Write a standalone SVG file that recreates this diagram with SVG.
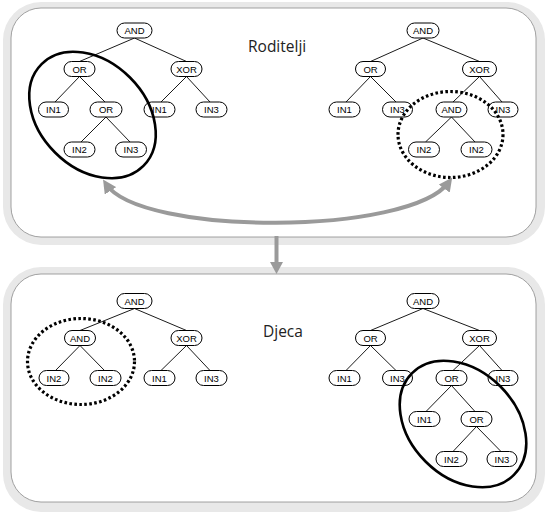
<svg xmlns="http://www.w3.org/2000/svg" width="546" height="516" viewBox="0 0 546 516">
<style>
.band{fill:#e8e8e8;stroke:none}
.panel{fill:#ffffff;stroke:#8a8a8a;stroke-width:0.8}
.n rect{fill:#ffffff;stroke:#000000;stroke-width:1}
.n text{font-family:"Liberation Sans",Arial,sans-serif;font-size:9.5px;fill:#000000;text-anchor:middle}
.e line{stroke:#000000;stroke-width:0.9}
.title{font-family:"Open Sans","Noto Sans",sans-serif;font-size:15.5px;fill:#222222}
.solid{fill:none;stroke:#000000;stroke-width:2.6}
.dotted{fill:none;stroke:#000000;stroke-width:3.2;stroke-dasharray:2.6 2.4}
.garrow{fill:none;stroke:#9a9a9a;stroke-width:4}
</style>
<defs>
<marker id="ah" viewBox="0 0 10 10" refX="6" refY="5" markerWidth="3.4" markerHeight="3.4" orient="auto-start-reverse" markerUnits="strokeWidth">
<path d="M0,0 L10,5 L0,10 Z" fill="#9a9a9a"/>
</marker>
</defs>
<g id="panel-top">
<rect class="band" x="3" y="2" width="542" height="243" rx="38"/>
<rect class="panel" x="11" y="8" width="525" height="229" rx="30"/>
</g>
<g id="panel-bottom">
<rect class="band" x="3" y="267" width="542" height="245" rx="38"/>
<rect class="panel" x="11" y="274" width="525" height="228" rx="30"/>
</g>
<text class="title" x="248" y="52">Roditelji</text>
<text class="title" x="263" y="337">Djeca</text>
<g id="connectors" class="e">
<!-- top-left tree -->
<line x1="134.5" y1="38" x2="79.5" y2="61.5"/>
<line x1="134.5" y1="38" x2="186.5" y2="61.5"/>
<line x1="79.5" y1="76.5" x2="55" y2="102"/>
<line x1="79.5" y1="76.5" x2="105" y2="102"/>
<line x1="186.5" y1="76.5" x2="161" y2="102"/>
<line x1="186.5" y1="76.5" x2="210" y2="102"/>
<line x1="106" y1="117" x2="81" y2="142"/>
<line x1="106" y1="117" x2="130" y2="142"/>
<!-- top-right tree -->
<line x1="423" y1="38" x2="370.5" y2="61.5"/>
<line x1="423" y1="38" x2="479.5" y2="61.5"/>
<line x1="370.5" y1="76.5" x2="346" y2="102"/>
<line x1="370.5" y1="76.5" x2="396" y2="102"/>
<line x1="479.5" y1="76.5" x2="453" y2="102"/>
<line x1="479.5" y1="76.5" x2="502" y2="102"/>
<line x1="451.5" y1="117" x2="425.5" y2="142"/>
<line x1="451.5" y1="117" x2="475" y2="142"/>
<!-- bottom-left tree -->
<line x1="134.5" y1="308.5" x2="80" y2="330.5"/>
<line x1="134.5" y1="308.5" x2="186.5" y2="330.5"/>
<line x1="80" y1="345.5" x2="55.5" y2="370.5"/>
<line x1="80" y1="345.5" x2="104.5" y2="370.5"/>
<line x1="186.5" y1="345.5" x2="161" y2="370.5"/>
<line x1="186.5" y1="345.5" x2="210" y2="370.5"/>
<!-- bottom-right tree -->
<line x1="423" y1="308.5" x2="370.5" y2="330.5"/>
<line x1="423" y1="308.5" x2="479.5" y2="330.5"/>
<line x1="370.5" y1="345.5" x2="346" y2="370.5"/>
<line x1="370.5" y1="345.5" x2="396" y2="370.5"/>
<line x1="479.5" y1="345.5" x2="453" y2="370.5"/>
<line x1="479.5" y1="345.5" x2="502" y2="370.5"/>
<line x1="451.5" y1="385.5" x2="426" y2="411.5"/>
<line x1="451.5" y1="385.5" x2="475" y2="411.5"/>
<line x1="476.5" y1="426.5" x2="453" y2="451.5"/>
<line x1="476.5" y1="426.5" x2="501" y2="451.5"/>
</g>
<!-- top-left tree nodes -->
<g id="t1-and" class="n"><rect x="117" y="23" width="35" height="15" rx="7.5"/><text x="134.5" y="34">AND</text></g>
<g id="t1-or" class="n"><rect x="64" y="61.5" width="31" height="15" rx="7.5"/><text x="79.5" y="72.5">OR</text></g>
<g id="t1-xor" class="n"><rect x="171" y="61.5" width="31" height="15" rx="7.5"/><text x="186.5" y="72.5">XOR</text></g>
<g id="t1-in1a" class="n"><rect x="38.5" y="102" width="30" height="15" rx="7.5"/><text x="53.5" y="113">IN1</text></g>
<g id="t1-or2" class="n"><rect x="90" y="102" width="32" height="15" rx="7.5"/><text x="106" y="113">OR</text></g>
<g id="t1-in1b" class="n"><rect x="144" y="102" width="31" height="15" rx="7.5"/><text x="159.5" y="113">IN1</text></g>
<g id="t1-in3a" class="n"><rect x="196" y="102" width="31" height="15" rx="7.5"/><text x="211.5" y="113">IN3</text></g>
<g id="t1-in2" class="n"><rect x="64" y="142" width="31" height="15" rx="7.5"/><text x="79.5" y="153">IN2</text></g>
<g id="t1-in3b" class="n"><rect x="115.5" y="142" width="31" height="15" rx="7.5"/><text x="131" y="153">IN3</text></g>
<!-- top-right tree nodes -->
<g id="t2-and" class="n"><rect x="407" y="23" width="32" height="15" rx="7.5"/><text x="423" y="34">AND</text></g>
<g id="t2-or" class="n"><rect x="355.5" y="61.5" width="30" height="15" rx="7.5"/><text x="370.5" y="72.5">OR</text></g>
<g id="t2-xor" class="n"><rect x="462.5" y="61.5" width="34" height="15" rx="7.5"/><text x="479.5" y="72.5">XOR</text></g>
<g id="t2-in1" class="n"><rect x="329" y="102" width="31" height="15" rx="7.5"/><text x="344.5" y="113">IN1</text></g>
<g id="t2-in3a" class="n"><rect x="382.5" y="102" width="30" height="15" rx="7.5"/><text x="397.5" y="113">IN3</text></g>
<g id="t2-and2" class="n"><rect x="436" y="102" width="31" height="15" rx="7.5"/><text x="451.5" y="113">AND</text></g>
<g id="t2-in3b" class="n"><rect x="488" y="102" width="30" height="15" rx="7.5"/><text x="503" y="113">IN3</text></g>
<g id="t2-in2a" class="n"><rect x="408.5" y="142" width="31" height="15" rx="7.5"/><text x="424" y="153">IN2</text></g>
<g id="t2-in2b" class="n"><rect x="461" y="142" width="31" height="15" rx="7.5"/><text x="476.5" y="153">IN2</text></g>
<!-- bottom-left tree nodes -->
<g id="b1-and" class="n"><rect x="117" y="293.5" width="35" height="15" rx="7.5"/><text x="134.5" y="304.5">AND</text></g>
<g id="b1-and2" class="n"><rect x="64.5" y="330.5" width="31" height="15" rx="7.5"/><text x="80" y="341.5">AND</text></g>
<g id="b1-xor" class="n"><rect x="171" y="330.5" width="31" height="15" rx="7.5"/><text x="186.5" y="341.5">XOR</text></g>
<g id="b1-in2a" class="n"><rect x="39" y="370.5" width="30" height="15" rx="7.5"/><text x="54" y="381.5">IN2</text></g>
<g id="b1-in2b" class="n"><rect x="90" y="370.5" width="31" height="15" rx="7.5"/><text x="105.5" y="381.5">IN2</text></g>
<g id="b1-in1" class="n"><rect x="144" y="370.5" width="31" height="15" rx="7.5"/><text x="159.5" y="381.5">IN1</text></g>
<g id="b1-in3" class="n"><rect x="196" y="370.5" width="31" height="15" rx="7.5"/><text x="211.5" y="381.5">IN3</text></g>
<!-- bottom-right tree nodes -->
<g id="b2-and" class="n"><rect x="407" y="293.5" width="32" height="15" rx="7.5"/><text x="423" y="304.5">AND</text></g>
<g id="b2-or" class="n"><rect x="355.5" y="330.5" width="30" height="15" rx="7.5"/><text x="370.5" y="341.5">OR</text></g>
<g id="b2-xor" class="n"><rect x="462.5" y="330.5" width="34" height="15" rx="7.5"/><text x="479.5" y="341.5">XOR</text></g>
<g id="b2-in1a" class="n"><rect x="329" y="370.5" width="31" height="15" rx="7.5"/><text x="344.5" y="381.5">IN1</text></g>
<g id="b2-in3a" class="n"><rect x="382.5" y="370.5" width="30" height="15" rx="7.5"/><text x="397.5" y="381.5">IN3</text></g>
<g id="b2-or2" class="n"><rect x="436" y="370.5" width="31" height="15" rx="7.5"/><text x="451.5" y="381.5">OR</text></g>
<g id="b2-in3b" class="n"><rect x="488" y="370.5" width="30" height="15" rx="7.5"/><text x="503" y="381.5">IN3</text></g>
<g id="b2-in1b" class="n"><rect x="409" y="411.5" width="31" height="15" rx="7.5"/><text x="424.5" y="422.5">IN1</text></g>
<g id="b2-or3" class="n"><rect x="461" y="411.5" width="31" height="15" rx="7.5"/><text x="476.5" y="422.5">OR</text></g>
<g id="b2-in2" class="n"><rect x="436" y="451.5" width="31" height="15" rx="7.5"/><text x="451.5" y="462.5">IN2</text></g>
<g id="b2-in3c" class="n"><rect x="487" y="451.5" width="30" height="15" rx="7.5"/><text x="502" y="462.5">IN3</text></g>
<g id="highlights">
<ellipse class="solid" cx="92.5" cy="115" rx="72" ry="53" transform="rotate(45 92.5 115)"/>
<ellipse class="dotted" cx="450.5" cy="134.5" rx="52.5" ry="43"/>
<ellipse class="dotted" cx="81" cy="361.5" rx="53.5" ry="43"/>
<ellipse class="solid" cx="463" cy="424" rx="72" ry="53" transform="rotate(45 463 424)"/>
</g>
<g id="arrows">
<path class="garrow" d="M106,184 C140,236 410,236 449,182" marker-start="url(#ah)" marker-end="url(#ah)"/>
<line class="garrow" x1="276.5" y1="236" x2="276.5" y2="263"/>
<path d="M270,262 L283,262 L276.5,274 Z" fill="#9a9a9a"/>
</g>
</svg>
